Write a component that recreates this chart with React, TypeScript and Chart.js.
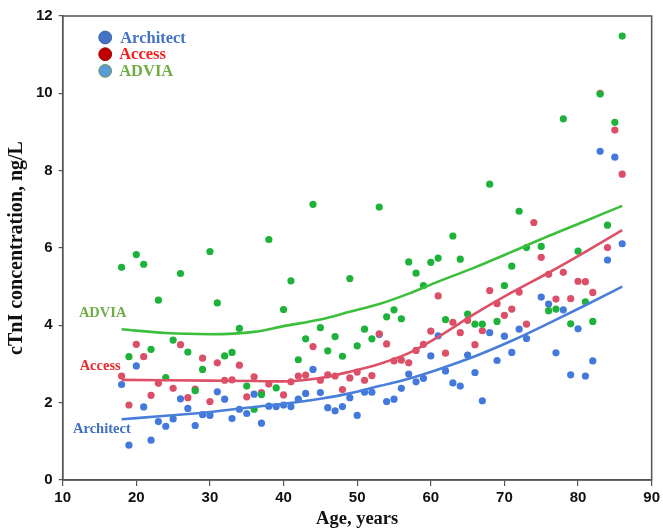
import React, { useEffect, useRef } from "react";
import { Chart, registerables } from "chart.js";

Chart.register(...registerables);

const architectAges = [18,19,20,21,22,23,24,25,26,27,28,29,30,31,32,33,34,35,36,37,38,39,40,41,42,43,44,45,46,47,48,49,50,51,52,53,54,55,56,57,58,59,60,61,62,63,64,65,66,67,68,69,70,71,72,73,75,76,77,78,79,80,81,82,83,84,85,86];
const architectVals = [2.47,0.90,2.95,1.89,1.03,1.51,1.39,1.58,2.10,1.85,1.41,1.69,1.67,2.28,2.09,1.59,1.83,1.72,2.22,1.47,1.91,1.90,1.94,1.90,2.09,2.24,2.86,2.26,1.87,1.79,1.90,2.13,1.67,2.27,2.27,3.76,2.03,2.09,2.37,2.74,2.54,2.63,3.21,3.73,2.82,2.51,2.43,3.23,2.78,2.05,3.81,3.09,3.72,3.30,3.90,3.66,4.73,4.55,3.29,4.40,2.72,3.91,2.69,3.08,8.50,5.69,8.35,6.11];

const accessAges = [18,19,20,21,22,23,25,26,27,28,29,30,31,32,33,34,35,36,37,38,40,41,42,43,44,45,46,47,48,49,50,51,52,53,54,55,56,57,58,59,60,61,62,63,64,65,66,67,68,69,70,71,72,73,74,75,76,77,78,79,80,81,82,83,84,85,86];
const accessVals = [2.69,1.94,3.51,3.19,2.19,2.50,2.37,3.50,2.13,2.35,3.15,2.03,3.03,2.58,2.59,2.97,2.15,2.67,2.26,2.48,2.20,2.54,2.69,2.71,3.45,2.58,2.72,2.69,2.34,2.64,2.79,2.58,2.70,3.78,3.52,3.08,3.10,3.03,3.35,3.51,3.85,4.76,3.28,4.08,3.81,4.13,3.50,3.86,4.90,4.56,4.26,4.42,4.86,4.03,6.66,5.76,5.32,4.68,5.37,4.69,5.14,5.13,4.85,10.0,6.01,9.05,7.91];

const adviaAges = [18,19,20,21,22,23,24,25,26,27,28,29,30,31,32,33,34,35,36,37,38,39,40,41,42,43,44,45,46,47,48,49,50,51,52,53,54,55,56,57,58,59,60,61,62,63,64,65,66,67,68,69,70,71,72,73,75,76,77,78,79,80,81,82,83,84,85,86];
const adviaVals = [5.50,3.19,5.83,5.58,3.38,4.65,2.65,3.62,5.34,3.31,2.31,2.86,5.91,4.58,3.21,3.30,3.92,2.43,1.83,2.21,6.22,2.38,4.41,5.15,3.11,3.65,7.13,3.94,3.34,3.71,3.20,5.21,3.47,3.90,3.65,7.06,4.22,4.40,4.17,5.64,5.35,5.03,5.63,5.74,4.15,6.31,5.71,4.29,4.03,4.03,7.65,4.10,5.03,5.53,6.95,6.01,6.04,4.38,4.42,9.34,4.04,5.92,4.61,4.10,9.98,6.59,9.25,11.48];

const fitAges = [18,24,30,36,40,45,49,53,57,61,66,71,76,81,86];
const adviaFit = [3.90,3.80,3.77,3.83,3.98,4.15,4.35,4.55,4.82,5.13,5.50,5.90,6.31,6.70,7.09];
const accessFit = [2.59,2.58,2.57,2.56,2.55,2.64,2.80,3.00,3.28,3.70,4.30,4.85,5.36,5.90,6.46];
const architectFit = [1.57,1.66,1.76,1.89,1.97,2.10,2.24,2.43,2.62,2.86,3.20,3.60,4.05,4.52,5.00];

const seriesNames = ["Architect", "Access", "ADVIA"];
const xTicks = [10,20,30,40,50,60,70,80,90];
const yTicks = [0,2,4,6,8,10,12];

const pts = (xs: number[], ys: number[]) => xs.map((x, i) => ({ x, y: ys[i] }));

const C_BLUE_PT = "#4379dc";
const C_RED_PT = "#db5068";
const C_GREEN_PT = "#1db33a";
const C_BLUE_LN = "#4a7fd9";
const C_RED_LN = "#de5068";
const C_GREEN_LN = "#3cbf3c";

export default function App() {
  const ref = useRef<HTMLCanvasElement | null>(null);
  useEffect(() => {
    if (!ref.current) return;
    const overlay = {
      id: "overlay",
      afterDraw(chart: any) {
        const { ctx, chartArea, scales } = chart;
        ctx.save();
        ctx.strokeStyle = "#555";
        ctx.lineWidth = 1.5;
        ctx.strokeRect(chartArea.left, chartArea.top, chartArea.right - chartArea.left, chartArea.bottom - chartArea.top);
        // legend
        const legendDots = ["#4472c4", "#c00000", "#5b9bd5"];
        const legendText = ["#4472c4", "#ff1a1a", "#70ad47"];
        const legendBorder = ["#3a62a8", "#a00000", "#6d9a55"];
        ctx.font = "bold 16.5px 'Liberation Serif', serif";
        ctx.textBaseline = "middle";
        ctx.textAlign = "left";
        seriesNames.forEach((n, i) => {
          const cx = chartArea.left + 42.5;
          const cy = chartArea.top + 21.5 + i * 16.7;
          ctx.beginPath();
          ctx.arc(cx, cy, 6.4, 0, Math.PI * 2);
          ctx.fillStyle = legendDots[i];
          ctx.fill();
          ctx.lineWidth = 1;
          ctx.strokeStyle = legendBorder[i];
          ctx.stroke();
          ctx.fillStyle = legendText[i];
          ctx.fillText(n, cx + (i === 0 ? 15 : 14), cy + 1);
        });
        // in-plot labels
        const lab = [
          { t: "ADVIA", age: 12.2, v: 4.32, c: "#70ad47" },
          { t: "Access", age: 12.3, v: 2.95, c: "#ee2a2a" },
          { t: "Architect", age: 11.4, v: 1.32, c: "#3f6fc0" },
        ];
        ctx.font = "bold 14.5px 'Liberation Serif', serif";
        lab.forEach((l) => {
          ctx.fillStyle = l.c;
          ctx.fillText(l.t, scales.x.getPixelForValue(l.age), scales.y.getPixelForValue(l.v));
        });
        ctx.restore();
      },
    };
    const scatterCommon = { type: "scatter", pointRadius: 3.6, pointBorderWidth: 0, showLine: false };
    const lineCommon = { type: "line", pointRadius: 0, borderWidth: 2.6, fill: false, tension: 0.4, cubicInterpolationMode: "monotone" };
    const chart = new Chart(ref.current, {
      type: "scatter",
      data: {
        datasets: [
          { ...lineCommon, label: "ADVIA fit", data: pts(fitAges, adviaFit), borderColor: C_GREEN_LN, order: 0 },
          { ...lineCommon, label: "Access fit", data: pts(fitAges, accessFit), borderColor: C_RED_LN, order: 1 },
          { ...lineCommon, label: "Architect fit", data: pts(fitAges, architectFit), borderColor: C_BLUE_LN, order: 2 },
          { ...scatterCommon, label: "ADVIA", data: pts(adviaAges, adviaVals), backgroundColor: C_GREEN_PT, order: 3 },
          { ...scatterCommon, label: "Access", data: pts(accessAges, accessVals), backgroundColor: C_RED_PT, order: 4 },
          { ...scatterCommon, label: "Architect", data: pts(architectAges, architectVals), backgroundColor: C_BLUE_PT, order: 5 },
        ] as any,
      },
      options: {
        animation: false,
        responsive: false,
        maintainAspectRatio: false,
        layout: { padding: { top: 16, right: 9.3, left: 0, bottom: 0 } },
        plugins: { legend: { display: false }, tooltip: { enabled: false } },
        scales: {
          x: {
            type: "linear",
            min: 10,
            max: 90,
            afterBuildTicks: (s: any) => { s.ticks = xTicks.map((v) => ({ value: v })); },
            afterFit: (s: any) => { s.height = 48; },
            grid: { display: true, drawOnChartArea: false, drawTicks: true, tickLength: 6, color: "#555", lineWidth: 1.2 },
            border: { display: true, color: "#555", width: 1.5 },
            ticks: { color: "#111", padding: 3, font: { family: "'Liberation Sans', Arial, sans-serif", size: 15, weight: "bold" }, maxRotation: 0 },
            title: { display: true, text: "Age, years", color: "#111", padding: { top: 0, bottom: 0 }, font: { family: "'Liberation Serif', serif", size: 18.5, weight: "bold", lineHeight: 1 } },
          },
          y: {
            type: "linear",
            min: 0,
            max: 12,
            afterBuildTicks: (s: any) => { s.ticks = yTicks.map((v) => ({ value: v })); },
            afterFit: (s: any) => { s.width = 62.7; },
            grid: { display: true, drawOnChartArea: false, drawTicks: true, tickLength: 4, color: "#555", lineWidth: 1.2 },
            border: { display: true, color: "#555", width: 1.5 },
            ticks: { color: "#111", padding: 6, font: { family: "'Liberation Sans', Arial, sans-serif", size: 15, weight: "bold" } },
            title: { display: true, text: "cTnI concentration, ng/L", color: "#111", padding: { top: 7, bottom: 0 }, font: { family: "'Liberation Serif', serif", size: 20, weight: "bold", lineHeight: 1 } },
          },
        },
      } as any,
      plugins: [overlay],
    });
    return () => chart.destroy();
  }, []);
  return (
    <div style={{ position: "fixed", left: 0, top: 0, width: 663, height: 528, background: "#fff" }}>
      <canvas ref={ref} width={663} height={528} style={{ width: 663, height: 528, display: "block" }} />
    </div>
  );
}
